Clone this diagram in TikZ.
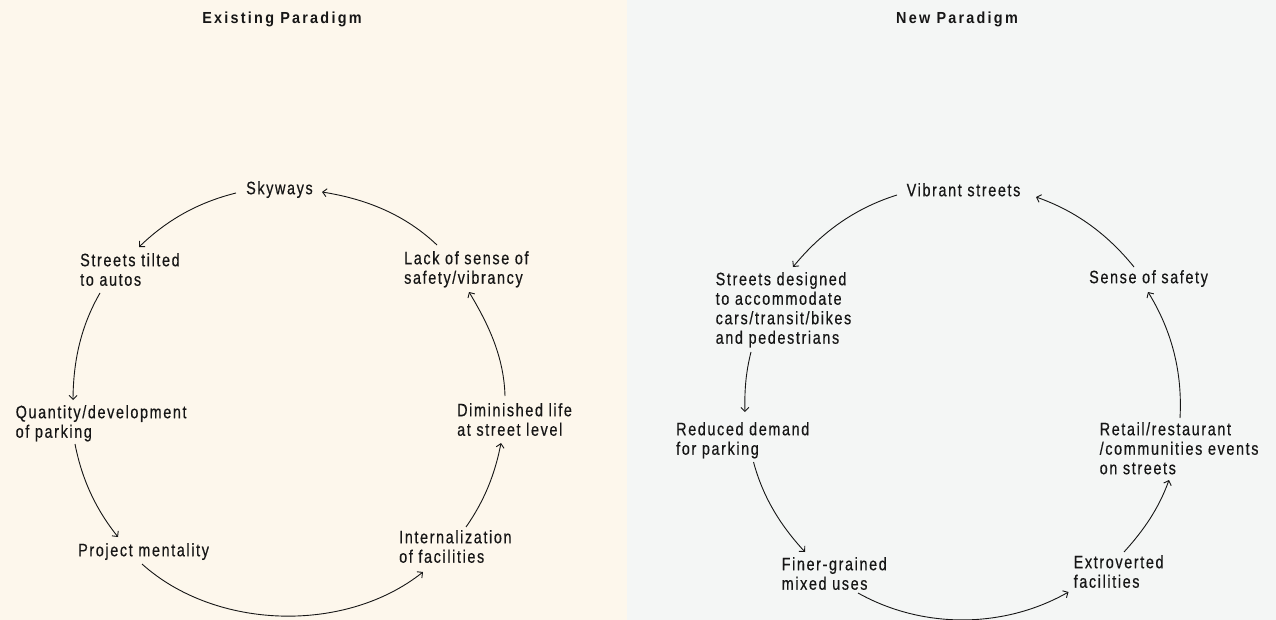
\documentclass[tikz,border=0pt]{standalone}
\usepackage{fontspec}
\usetikzlibrary{arrows.meta}
\setmainfont{Liberation Sans}
\newfontfamily\bodyfont[FakeStretch=0.8,LetterSpace=9,FakeBold=0.4]{Liberation Sans}
\newfontfamily\titlefont[FakeStretch=0.9,LetterSpace=14]{Liberation Sans}
\definecolor{ink}{HTML}{161616}
\definecolor{creambg}{HTML}{FDF7EC}
\definecolor{greybg}{HTML}{F4F6F5}
\begin{document}
\begin{tikzpicture}[x=1pt,y=1pt,
  lbl/.style={font=\bodyfont\fontsize{18}{19.5}\selectfont, align=left, inner sep=0pt, anchor=north west, text=ink},
  ttl/.style={font=\titlefont\bfseries\fontsize{16}{19}\selectfont, inner sep=0pt, anchor=north, text=ink},
  arr/.style={draw=ink, line width=0.9pt, -{Straight Barb[length=4pt,width=8pt]}, looseness=0.9}]
\useasboundingbox (0,0) rectangle (1276,-620);
\fill[creambg] (0,0) rectangle (627,-620);
\fill[greybg] (627,0) rectangle (1276,-620);
% titles
\node[ttl] (t1) at (282,-11.5) {Existing Paradigm};
\node[ttl] (t2) at (957,-11.5) {New Paradigm};
% left cycle
\node[lbl] (sky) at (246,-181) {Skyways};
\node[lbl] (st) at (80,-253) {Streets tilted\\to autos};
\node[lbl] (lack) at (404,-251) {Lack of sense of\\safety\kern1.5pt/\kern1.5pt vibrancy};
\node[lbl] (qty) at (15.5,-405) {Quantity/development\\of parking};
\node[lbl] (dim) at (457,-403) {Diminished life\\at street level};
\node[lbl] (proj) at (78,-543) {Project mentality};
\node[lbl] (int) at (399,-530) {Internalization\\of facilities};
\draw[arr] ([shift={(-10,-12)}]sky.north west) to[out=194,in=44] ([shift={(59,6)}]st.north west);
\draw[arr] ([shift={(20,-40)}]st.north west) to[out=240,in=89.5] ([shift={(57.5,5)}]qty.north west);
\draw[arr] ([shift={(59.5,-39)}]qty.north west) to[out=281,in=128.5] ([shift={(40,6)}]proj.north west);
\draw[arr] ([shift={(64,-21)}]proj.north west) to[out=318,in=218.5] ([shift={(24,-42)}]int.north west);
\draw[arr] ([shift={(67,3)}]int.north west) to[out=55,in=259] ([shift={(44,-40)}]dim.north west);
\draw[arr] ([shift={(48,7)}]dim.north west) to[out=91.6,in=-59] ([shift={(65,-41)}]lack.north west);
\draw[arr] ([shift={(33,6)}]lack.north west) to[out=136.5,in=-9] ([shift={(76,-11)}]sky.north west);
% right cycle
\node[lbl] (vib) at (906.5,-183) {Vibrant streets};
\node[lbl] (sd) at (715.5,-272) {Streets designed\\to accommodate\\cars/transit/bikes\\and pedestrians};
\node[lbl] (sos) at (1089,-270) {Sense of safety};
\node[lbl] (red) at (676,-422) {Reduced demand\\for parking};
\node[lbl] (fin) at (781.5,-557) {Finer-grained\\mixed uses};
\node[lbl] (ext) at (1073.5,-555) {Extroverted\\facilities};
\node[lbl] (ret) at (1099.5,-422) {Retail\kern1.5pt/\kern1.5pt restaurant\\/communities events\\on streets};
\draw[arr] ([shift={(-9.5,-12)}]vib.north west) to[out=197.4,in=50.7] ([shift={(77.5,5)}]sd.north west);
\draw[arr] ([shift={(35.5,-80)}]sd.north west) to[out=255.7,in=91.6] ([shift={(69,10)}]red.north west);
\draw[arr] ([shift={(77.5,-40)}]red.north west) to[out=285,in=132.7] ([shift={(23.5,5)}]fin.north west);
\draw[arr] ([shift={(76.5,-36)}]fin.north west) to[out=330.7,in=209.6] ([shift={(-5,-37)}]ext.north west);
\draw[arr] ([shift={(50.5,3)}]ext.north west) to[out=47.8,in=250.2] ([shift={(69.5,-58)}]ret.north west);
\draw[arr] ([shift={(80.5,4)}]ret.north west) to[out=86.8,in=-58.4] ([shift={(59,-22)}]sos.north west);
\draw[arr] ([shift={(45,3)}]sos.north west) to[out=129,in=-19.3] ([shift={(129.5,-14)}]vib.north west);
\end{tikzpicture}
\end{document}
